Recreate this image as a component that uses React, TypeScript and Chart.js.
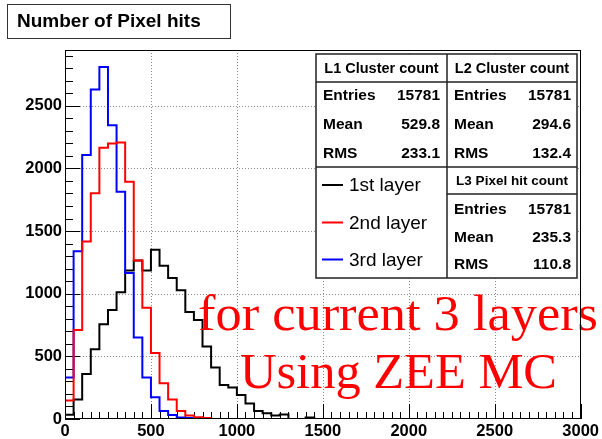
import React, { useEffect, useRef } from "react";
import { Chart, registerables } from "chart.js";

Chart.register(...registerables);

// ---- data ----
const BIN_WIDTH = 50;
const X_MIN = 0;
const X_MAX = 3000;
const Y_MAX = 2945;
const xTicks = [0, 500, 1000, 1500, 2000, 2500, 3000];
const yTicks = [0, 500, 1000, 1500, 2000, 2500];

const layer1Counts = [33, 155, 359, 557, 756, 869, 1012, 1185, 1264, 1185, 1351, 1224, 1126, 1028, 854, 790, 578, 411, 272, 252, 192, 123, 64, 46, 28, 36, 0, 0, 12];
const layer2Counts = [147, 711, 1417, 1801, 2164, 2198, 2206, 1894, 1264, 888, 526, 286, 155, 64, 28, 14, 8];
const layer3Counts = [332, 1338, 2106, 2630, 2809, 2344, 1814, 1166, 650, 332, 173, 64, 32, 12, 8, 5, 3];

const seriesLabels = ["1st layer", "2nd layer", "3rd layer"];
const seriesColors = ["#000000", "#ff0000", "#0000ff"];

const statTitles = ["L1 Cluster count", "L2 Cluster count", "L3 Pixel hit count"];
const statNames = ["Entries", "Mean", "RMS"];
const statEntries = ["15781", "15781", "15781"];
const statMeans = ["529.8", "294.6", "235.3"];
const statRms = ["233.1", "132.4", "110.8"];

const titleText = "Number of Pixel hits";
const noteLines = ["for current 3 layers", "Using ZEE MC"];

function histPoints(counts: number[]) {
  const pts = counts.map((c, i) => ({ x: X_MIN + i * BIN_WIDTH, y: c }));
  pts.push({ x: X_MIN + counts.length * BIN_WIDTH, y: 0 });
  pts.push({ x: X_MAX, y: 0 });
  return pts;
}

const SANS = '"Liberation Sans", Arial, sans-serif';
const SERIF = '"Liberation Serif", "Times New Roman", serif';

const decorPlugin = {
  id: "decor",
  beforeDatasetsDraw(chart: any) {
    const { ctx, chartArea: a, scales } = chart;
    const xs = scales.x;
    const ys = scales.y;
    ctx.save();
    // grid
    ctx.strokeStyle = "#8a8a8a";
    ctx.lineWidth = 1;
    ctx.setLineDash([1, 2]);
    xTicks.forEach((v) => {
      if (v <= X_MIN || v >= X_MAX) return;
      const px = Math.round(xs.getPixelForValue(v)) + 0.5;
      ctx.beginPath();
      ctx.moveTo(px, a.top);
      ctx.lineTo(px, a.bottom);
      ctx.stroke();
    });
    yTicks.forEach((v) => {
      if (v <= 0) return;
      const py = Math.round(ys.getPixelForValue(v)) + 0.5;
      ctx.beginPath();
      ctx.moveTo(a.left, py);
      ctx.lineTo(a.right, py);
      ctx.stroke();
    });
    ctx.setLineDash([]);
    // tick marks
    ctx.strokeStyle = "#000";
    ctx.lineWidth = 1;
    for (let v = X_MIN; v <= X_MAX; v += 50) {
      const px = Math.round(xs.getPixelForValue(v)) + 0.5;
      const len = v % 500 === 0 ? 15 : 7;
      ctx.beginPath();
      ctx.moveTo(px, a.bottom);
      ctx.lineTo(px, a.bottom - len);
      ctx.stroke();
    }
    for (let v = 0; v <= Y_MAX; v += 100) {
      const py = Math.round(ys.getPixelForValue(v)) + 0.5;
      const len = v % 500 === 0 ? 15 : 8;
      ctx.beginPath();
      ctx.moveTo(a.left, py);
      ctx.lineTo(a.left + len, py);
      ctx.stroke();
    }
    ctx.restore();
  },
  afterDatasetsDraw(chart: any) {
    const { ctx, chartArea: a } = chart;
    ctx.save();

    // red note text
    ctx.fillStyle = "#ff0000";
    ctx.textBaseline = "alphabetic";
    ctx.textAlign = "left";
    ctx.font = "50px " + SERIF;
    const notePos = [
      { left: 198, base: 330, w: 400 },
      { left: 240, base: 388, w: 317 },
    ];
    noteLines.forEach((t, i) => {
      const p = notePos[i];
      const mw = ctx.measureText(t).width;
      ctx.save();
      ctx.translate(p.left, p.base);
      ctx.scale(p.w / mw, 1);
      ctx.fillText(t, 0, 0);
      ctx.restore();
    });

    // frame
    ctx.strokeStyle = "#000";
    ctx.lineWidth = 1;
    ctx.strokeRect(Math.round(a.left) + 0.5, Math.round(a.top) + 0.5, Math.round(a.right - a.left) - 1, Math.round(a.bottom - a.top) - 1);

    // title box
    ctx.fillStyle = "#fff";
    ctx.fillRect(7.5, 4.5, 223, 34);
    ctx.strokeStyle = "#333";
    ctx.lineWidth = 1;
    ctx.strokeRect(7.5, 4.5, 223, 34);
    ctx.fillStyle = "#000";
    ctx.font = "bold 19px " + SANS;
    ctx.textBaseline = "middle";
    ctx.textAlign = "left";
    ctx.fillText(titleText, 17, 22);

    // stats boxes
    const X0 = 316, X1 = 447, X2 = 577;
    const Y0 = 54, Y1 = 82, Y2 = 167, Y3 = 194, Y4 = 278;
    ctx.fillStyle = "#fff";
    ctx.fillRect(X0, Y0, X2 - X0, Y4 - Y0);
    ctx.strokeStyle = "#222";
    ctx.lineWidth = 1.5;
    ctx.strokeRect(X0, Y0, X2 - X0, Y4 - Y0);
    ctx.beginPath();
    ctx.moveTo(X1, Y0); ctx.lineTo(X1, Y4);
    ctx.moveTo(X0, Y1); ctx.lineTo(X2, Y1);
    ctx.moveTo(X0, Y2); ctx.lineTo(X2, Y2);
    ctx.moveTo(X1, Y3); ctx.lineTo(X2, Y3);
    ctx.stroke();

    ctx.fillStyle = "#000";
    ctx.textBaseline = "middle";
    // headers
    ctx.textAlign = "center";
    ctx.font = "bold 14.5px " + SANS;
    ctx.fillText(statTitles[0], (X0 + X1) / 2, 68.5);
    ctx.fillText(statTitles[1], (X1 + X2) / 2, 68.5);
    ctx.font = "bold 13.5px " + SANS;
    ctx.fillText(statTitles[2], (X1 + X2) / 2, 181.5);

    const values = [statEntries, statMeans, statRms];
    const rowsTop = [96, 125, 153.5];
    const rowsBot = [209.5, 237.5, 264.5];
    ctx.font = "bold 15.5px " + SANS;
    const drawRows = (col: number, labelX: number, valueX: number, rows: number[]) => {
      statNames.forEach((n, r) => {
        ctx.textAlign = "left";
        ctx.fillText(n, labelX, rows[r]);
        ctx.textAlign = "right";
        ctx.fillText(values[r][col], valueX, rows[r]);
      });
    };
    drawRows(0, 323, 440, rowsTop);
    drawRows(1, 454, 571, rowsTop);
    drawRows(2, 454, 571, rowsBot);

    // legend
    const legY = [185, 222.5, 259.5];
    ctx.font = "19px " + SANS;
    ctx.textAlign = "left";
    seriesLabels.forEach((l, i) => {
      ctx.strokeStyle = seriesColors[i];
      ctx.lineWidth = 2;
      ctx.beginPath();
      ctx.moveTo(322, legY[i]);
      ctx.lineTo(343, legY[i]);
      ctx.stroke();
      ctx.fillStyle = "#000";
      ctx.fillText(l, 349, legY[i] + 1);
    });

    ctx.restore();
  },
};

export default function App() {
  const ref = useRef<HTMLCanvasElement>(null);
  useEffect(() => {
    const canvas = ref.current!;
    const allCounts = [layer1Counts, layer2Counts, layer3Counts];
    const orders = [2, 0, 1];
    const chart = new Chart(canvas, {
      type: "line",
      data: {
        datasets: allCounts.map((c, i) => ({
          label: seriesLabels[i],
          data: histPoints(c),
          borderColor: seriesColors[i],
          borderWidth: 2,
          pointRadius: 0,
          fill: false,
          stepped: "before",
          tension: 0,
          order: orders[i],
        })),
      },
      options: {
        responsive: false,
        devicePixelRatio: 1,
        animation: false,
        parsing: true,
        layout: { padding: { top: 50, right: 20, left: 0, bottom: 0 } },
        plugins: { legend: { display: false }, tooltip: { enabled: false }, title: { display: false } },
        scales: {
          x: {
            type: "linear",
            min: X_MIN,
            max: X_MAX,
            afterBuildTicks: (s: any) => {
              s.ticks = xTicks.map((v) => ({ value: v }));
            },
            afterFit: (s: any) => {
              s.height = 20;
            },
            grid: { display: false, drawTicks: false },
            border: { display: false },
            ticks: {
              autoSkip: false,
              maxRotation: 0,
              padding: 3,
              color: "#000",
              font: { family: SANS, size: 16.5, weight: "bold" },
              callback: (v: any) => String(v),
            },
          },
          y: {
            type: "linear",
            min: 0,
            max: Y_MAX,
            afterBuildTicks: (s: any) => {
              s.ticks = yTicks.map((v) => ({ value: v }));
            },
            afterFit: (s: any) => {
              s.width = 65;
            },
            grid: { display: false, drawTicks: false },
            border: { display: false },
            ticks: {
              padding: 3,
              color: "#000",
              font: { family: SANS, size: 16.5, weight: "bold" },
              callback: (v: any) => String(v),
            },
          },
        },
      },
      plugins: [decorPlugin],
    } as any);
    return () => chart.destroy();
  }, []);
  return (
    <div style={{ position: "fixed", left: 0, top: 0, width: 602, height: 439, background: "#fff" }}>
      <canvas ref={ref} width={602} height={439} style={{ display: "block", width: 602, height: 439 }} />
    </div>
  );
}
